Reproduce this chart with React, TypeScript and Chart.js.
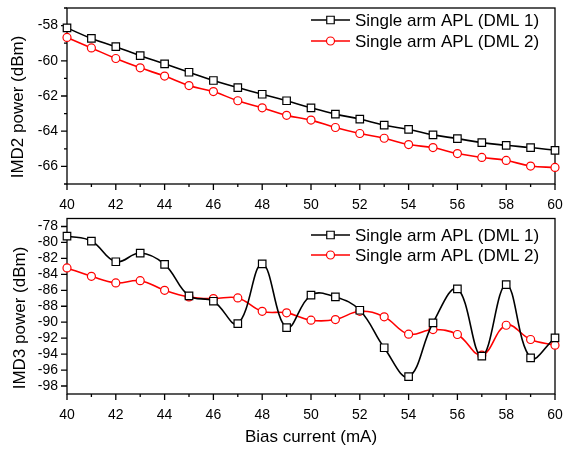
import React, { useEffect, useRef } from 'react';
import { Chart, registerables } from 'chart.js';

Chart.register(...registerables);

const biasCurrent = [40, 41, 42, 43, 44, 45, 46, 47, 48, 49, 50, 51, 52, 53, 54, 55, 56, 57, 58, 59, 60];
const imd2Dml1 = [-58.13, -58.73, -59.2, -59.71, -60.17, -60.65, -61.12, -61.52, -61.9, -62.27, -62.67, -63.03, -63.31, -63.66, -63.9, -64.21, -64.42, -64.65, -64.8, -64.93, -65.09];
const imd2Dml2 = [-58.67, -59.27, -59.87, -60.4, -60.87, -61.41, -61.75, -62.27, -62.67, -63.1, -63.37, -63.79, -64.13, -64.4, -64.76, -64.93, -65.27, -65.49, -65.66, -65.98, -66.06];
const imd3Dml1 = [-79.2, -79.83, -82.42, -81.33, -82.75, -86.7, -87.37, -90.17, -82.7, -90.67, -86.6, -86.83, -88.5, -93.2, -96.83, -90.08, -85.83, -94.25, -85.3, -94.46, -91.96];
const imd3Dml2 = [-83.2, -84.25, -85.08, -84.8, -86.0, -86.83, -87.04, -86.96, -88.63, -88.83, -89.75, -89.67, -88.63, -89.33, -91.5, -90.92, -91.54, -94.13, -90.38, -92.17, -92.88];
const seriesLabels = ['Single arm APL (DML 1)', 'Single arm APL (DML 2)'];
const xRange = [40, 60];
const imd2Range = [-67, -57];
const imd3Range = [-99, -77];
const xTitle = 'Bias current (mA)';
const imd2Title = 'IMD2 power (dBm)';
const imd3Title = 'IMD3 power (dBm)';

const FONT = '"Liberation Sans", Arial, Helvetica, sans-serif';
const BLACK = '#000000';
const RED = '#ff0000';

type PanelCfg = {
  yRange: number[];
  yMinor: boolean;
  yTitle: string;
  yTitlePos: [number, number];
  legendRows: number[];
  xTitlePos?: [number, number];
};

function drawMarker(ctx: CanvasRenderingContext2D, kind: string, x: number, y: number, color: string) {
  ctx.save();
  ctx.fillStyle = '#ffffff';
  ctx.strokeStyle = color;
  ctx.lineWidth = 1.2;
  ctx.beginPath();
  if (kind === 'rect') {
    ctx.rect(x - 3.75, y - 3.75, 7.5, 7.5);
  } else {
    ctx.arc(x, y, 4, 0, Math.PI * 2);
  }
  ctx.fill();
  ctx.stroke();
  ctx.restore();
}

function makeDecor(cfg: PanelCfg) {
  return {
    id: 'decor',
    beforeDatasetsDraw(chart: any) {
      const { ctx, chartArea: a, scales } = chart;
      ctx.save();
      ctx.strokeStyle = BLACK;
      ctx.lineWidth = 1.3;
      ctx.strokeRect(a.left, a.top, a.right - a.left, a.bottom - a.top);
      ctx.beginPath();
      for (let v = xRange[0]; v <= xRange[1]; v++) {
        const px = scales.x.getPixelForValue(v);
        const len = Math.abs(v) % 2 === 0 ? 6 : 3;
        ctx.moveTo(px, a.bottom);
        ctx.lineTo(px, a.bottom + len);
      }
      for (let v = cfg.yRange[0]; v <= cfg.yRange[1]; v++) {
        const even = Math.abs(v) % 2 === 0;
        if (!even && !cfg.yMinor) continue;
        const py = scales.y.getPixelForValue(v);
        const len = even ? 6 : 3;
        ctx.moveTo(a.left, py);
        ctx.lineTo(a.left - len, py);
      }
      ctx.stroke();
      ctx.restore();
    },
    afterDraw(chart: any) {
      const { ctx } = chart;
      ctx.save();
      const styles = [
        { color: BLACK, kind: 'rect' },
        { color: RED, kind: 'circle' },
      ];
      cfg.legendRows.forEach((ry, i) => {
        const s = styles[i];
        ctx.strokeStyle = s.color;
        ctx.lineWidth = 1.6;
        ctx.beginPath();
        ctx.moveTo(311, ry);
        ctx.lineTo(350, ry);
        ctx.stroke();
        drawMarker(ctx, s.kind, 330.5, ry, s.color);
        ctx.fillStyle = BLACK;
        ctx.font = `17px ${FONT}`;
        ctx.textAlign = 'left';
        ctx.textBaseline = 'middle';
        ctx.fillText(seriesLabels[i], 355, ry + 1);
      });
      ctx.save();
      ctx.translate(cfg.yTitlePos[0], cfg.yTitlePos[1]);
      ctx.rotate(-Math.PI / 2);
      ctx.fillStyle = BLACK;
      ctx.font = `17px ${FONT}`;
      ctx.textAlign = 'center';
      ctx.textBaseline = 'middle';
      ctx.fillText(cfg.yTitle, 0, 0);
      ctx.restore();
      if (cfg.xTitlePos) {
        ctx.fillStyle = BLACK;
        ctx.font = `17px ${FONT}`;
        ctx.textAlign = 'center';
        ctx.textBaseline = 'middle';
        ctx.fillText(xTitle, cfg.xTitlePos[0], cfg.xTitlePos[1]);
      }
      ctx.restore();
    },
  };
}

function buildConfig(d1: number[], d2: number[], cfg: PanelCfg, padTop: number, xHeight: number) {
  const tickFont = { family: FONT, size: 14 };
  const evenLabel = (v: any) => (Math.abs(Number(v)) % 2 === 0 ? String(v) : '');
  return {
    type: 'line' as const,
    data: {
      datasets: [
        {
          label: seriesLabels[0],
          data: biasCurrent.map((x, i) => ({ x, y: d1[i] })),
          borderColor: BLACK,
          borderWidth: 1.6,
          tension: 0.4,
          pointStyle: 'rect',
          pointRadius: 5.3,
          pointBackgroundColor: '#ffffff',
          pointBorderColor: BLACK,
          pointBorderWidth: 1.2,
          clip: false,
        },
        {
          label: seriesLabels[1],
          data: biasCurrent.map((x, i) => ({ x, y: d2[i] })),
          borderColor: RED,
          borderWidth: 1.6,
          tension: 0.4,
          pointStyle: 'circle',
          pointRadius: 4,
          pointBackgroundColor: '#ffffff',
          pointBorderColor: RED,
          pointBorderWidth: 1.2,
          clip: false,
        },
      ],
    },
    options: {
      animation: false,
      responsive: false,
      maintainAspectRatio: false,
      layout: { padding: { left: 0, right: 8, top: padTop, bottom: 0 } },
      plugins: { legend: { display: false }, tooltip: { enabled: false } },
      scales: {
        x: {
          type: 'linear',
          min: xRange[0],
          max: xRange[1],
          grid: { display: false, drawTicks: false, tickLength: 0 },
          border: { display: false },
          ticks: {
            stepSize: 1,
            autoSkip: false,
            maxRotation: 0,
            minRotation: 0,
            padding: 13,
            color: BLACK,
            font: tickFont,
            callback: evenLabel,
          },
          afterFit: (s: any) => {
            s.height = xHeight;
            s.paddingLeft = 0;
            s.paddingRight = 0;
          },
        },
        y: {
          type: 'linear',
          min: cfg.yRange[0],
          max: cfg.yRange[1],
          grid: { display: false, drawTicks: false, tickLength: 0 },
          border: { display: false },
          ticks: {
            stepSize: 1,
            autoSkip: false,
            padding: 9,
            color: BLACK,
            font: tickFont,
            callback: evenLabel,
          },
          afterFit: (s: any) => {
            s.width = 67;
            s.paddingTop = 0;
            s.paddingBottom = 0;
          },
        },
      },
    },
    plugins: [makeDecor(cfg)],
  };
}

export default function App() {
  const topRef = useRef<HTMLCanvasElement | null>(null);
  const botRef = useRef<HTMLCanvasElement | null>(null);

  useEffect(() => {
    const topCfg: PanelCfg = {
      yRange: imd2Range,
      yMinor: true,
      yTitle: imd2Title,
      yTitlePos: [18, 107],
      legendRows: [20, 41],
    };
    const botCfg: PanelCfg = {
      yRange: imd3Range,
      yMinor: false,
      yTitle: imd3Title,
      yTitlePos: [20, 106],
      legendRows: [23, 43],
      xTitlePos: [311, 225],
    };
    const c1 = new Chart(topRef.current as HTMLCanvasElement, buildConfig(imd2Dml1, imd2Dml2, topCfg, 8, 40) as any);
    const c2 = new Chart(botRef.current as HTMLCanvasElement, buildConfig(imd3Dml1, imd3Dml2, botCfg, 6, 56) as any);
    return () => {
      c1.destroy();
      c2.destroy();
    };
  }, []);

  return (
    <div style={{ position: 'absolute', left: 0, top: 0, width: 563, height: 450, background: '#ffffff' }}>
      <canvas ref={topRef} width={563} height={224} style={{ position: 'absolute', left: 0, top: 0, width: 563, height: 224 }} />
      <canvas ref={botRef} width={563} height={238} style={{ position: 'absolute', left: 0, top: 212, width: 563, height: 238 }} />
    </div>
  );
}
